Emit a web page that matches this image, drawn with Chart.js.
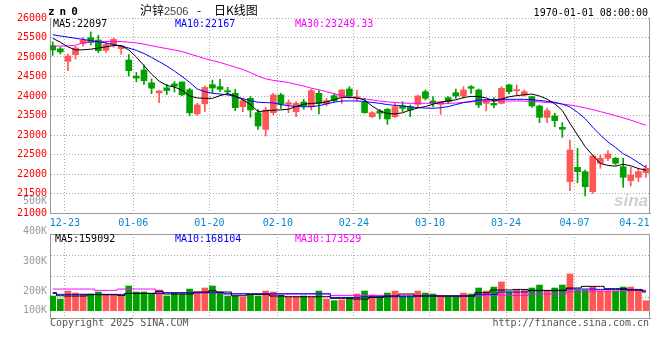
<!DOCTYPE html>
<html><head><meta charset="utf-8">
<script src="https://cdn.jsdelivr.net/npm/chart.js@4.4.1/dist/chart.umd.min.js"></script>
<style>
html,body{margin:0;padding:0;background:#fff}
#wrap{position:relative;width:660px;height:360px;background:#fff;overflow:hidden}
canvas{position:absolute;left:0}
</style></head><body>
<div id="wrap">
<canvas id="price" width="660" height="240" style="top:0px"></canvas>
<canvas id="vol" width="660" height="170" style="top:190px"></canvas>
</div>
<script>
// ---------------- data ----------------
const symbol = 'zn0';
const titleParts = ['沪锌', '2506', '-', '日K线图'];
const timeStamp = '1970-01-01 08:00:00';
const dates = ['12-20','12-23','12-24','12-25','12-26','12-27','12-30','12-31','01-02','01-03','01-06','01-07','01-08','01-09','01-10','01-13','01-14','01-15','01-16','01-17','01-20','01-21','01-22','01-23','01-24','01-27','02-05','02-06','02-07','02-10','02-11','02-12','02-13','02-14','02-17','02-18','02-19','02-20','02-21','02-24','02-25','02-26','02-27','02-28','03-03','03-04','03-05','03-06','03-07','03-10','03-11','03-12','03-13','03-14','03-17','03-18','03-19','03-20','03-21','03-24','03-25','03-26','03-27','03-28','03-31','04-01','04-02','04-03','04-07','04-08','04-09','04-10','04-11','04-14','04-15','04-16','04-17','04-18','04-21'];
const dateTicks = ['12-23','01-06','01-20','02-10','02-24','03-10','03-24','04-07','04-21'];
const openP = [25290,25210,24888,25060,25340,25495,25435,25170,25310,25215,24923,24510,24666,24337,24080,24210,24310,24360,24160,23540,23800,24290,24239,24137,24068,23726,23940,23573,23145,23573,24026,23786,23598,23846,23726,24068,23795,24009,23966,24180,23940,23838,23470,23616,23658,23470,23752,23727,23786,24111,23872,23786,23957,24085,24000,24239,24154,23812,23812,23812,24282,24137,24026,23983,23744,23453,23487,23197,21804,22171,22060,21547,22274,22402,22402,22188,21829,21915,22035];
const highP = [25390,25250,25077,25273,25500,25645,25555,25385,25490,25290,25065,24605,24790,24440,24140,24300,24370,24365,24200,23810,24260,24410,24427,24222,24171,23940,23983,23658,23709,24068,24068,23897,23855,23914,24171,24137,23940,24068,24171,24240,24154,23940,23598,23658,23684,23812,23855,23769,24026,24154,23983,23855,23983,24180,24239,24265,24180,23914,23957,24240,24308,24282,24154,23983,23769,23684,23556,23316,22872,22658,22103,22488,22488,22599,22428,22402,22171,22146,22231];
const lowP = [25040,25077,24649,24948,25280,25310,25110,25120,25250,25075,24512,24365,24295,24060,23830,24040,24100,24010,23490,23510,23600,24080,24111,24026,23624,23598,23453,23145,22974,23513,23684,23573,23470,23658,23641,23538,23744,23855,23812,23940,23872,23556,23445,23410,23274,23445,23598,23470,23727,23897,23727,23530,23812,23940,23940,24068,23701,23616,23701,23795,24051,24026,24000,23710,23316,23316,23214,22940,21573,21778,21436,21505,22146,22342,22231,21658,21693,21804,21915];
const closeP = [25180,25130,25025,25230,25430,25370,25162,25320,25452,25285,24649,24460,24393,24200,24130,24140,24250,24030,23570,23770,24220,24205,24171,24103,23701,23880,23641,23231,23641,24026,23786,23829,23812,23744,24137,23812,23880,23880,24154,24000,23983,23573,23573,23556,23410,23727,23684,23641,24000,23940,23812,23855,23855,24000,24154,24197,23769,23897,23769,24197,24111,24154,24111,23744,23453,23624,23368,23146,22616,22060,21675,22462,22402,22513,22274,21915,21975,22060,22146];
const ma5 = [25480,25380,25260,25180,25185,25200,25230,25260,25295,25295,25180,25000,24780,24560,24380,24270,24230,24150,24000,23950,23940,23940,24010,24060,24000,23900,23780,23600,23620,23635,23645,23660,23730,23790,23810,23820,23850,23900,23965,23965,23950,23900,23740,23620,23550,23540,23570,23640,23690,23730,23790,23840,23875,23900,23960,23990,23985,23950,23870,23920,23980,24010,24030,24050,24000,23920,23800,23630,23300,23000,22700,22480,22270,22220,22200,22250,22210,22140,22097];
const ma10 = [25570,25540,25510,25480,25450,25420,25390,25360,25320,25280,25230,25170,25090,24990,24880,24770,24640,24500,24350,24180,24110,24070,24050,24030,23990,23930,23880,23840,23830,23825,23780,23750,23730,23725,23725,23750,23800,23840,23870,23875,23872,23860,23835,23812,23780,23760,23745,23720,23705,23690,23685,23700,23727,23780,23830,23860,23895,23905,23912,23915,23915,23915,23915,23905,23885,23865,23840,23790,23720,23580,23420,23200,23000,22820,22680,22520,22420,22290,22167];
const ma30 = [25280,25280,25285,25300,25370,25385,25395,25400,25400,25395,25380,25360,25330,25290,25250,25215,25180,25140,25080,25020,24960,24910,24860,24800,24740,24680,24600,24510,24440,24400,24375,24345,24300,24255,24200,24160,24110,24060,24010,23980,23950,23925,23900,23870,23850,23835,23820,23812,23812,23815,23812,23812,23812,23820,23835,23850,23860,23870,23872,23872,23872,23872,23870,23860,23850,23835,23820,23795,23770,23735,23695,23650,23600,23550,23495,23440,23380,23315,23249.33];
const volume = [124700,99000,167000,150000,142000,142000,159000,133000,133000,125000,210000,159000,159000,142000,176000,125000,150000,142000,184000,159000,193000,210000,159000,125000,125000,116000,133000,125000,167000,159000,133000,116000,116000,125000,116000,167000,99000,85000,91000,113000,142000,167000,133000,125000,150000,167000,125000,125000,167000,150000,142000,125000,125000,125000,150000,142000,193000,167000,201000,244000,159000,176000,176000,193000,218000,167000,193000,218000,312000,176000,176000,201000,167000,167000,167000,201000,201000,167000,85000];
const volMA5 = [153000,127000,125000,125000,125000,136000,136000,136000,136000,130000,147000,147000,147000,147000,164000,142000,142000,142000,142000,159000,159000,170000,159000,159000,127000,127000,139000,139000,139000,125000,125000,119000,119000,119000,119000,119000,119000,105000,105000,105000,99000,99000,113000,113000,125000,125000,142000,142000,125000,125000,125000,125000,125000,125000,125000,125000,153000,153000,176000,176000,176000,181000,181000,173000,173000,173000,173000,173000,193000,193000,207000,207000,207000,187000,187000,187000,176000,176000,159092];
const volMA10 = [147000,139000,139000,139000,139000,139000,139000,139000,139000,139000,147000,147000,147000,147000,147000,153000,153000,153000,153000,153000,153000,153000,153000,144000,144000,144000,144000,144000,144000,144000,144000,144000,144000,144000,144000,144000,144000,113000,113000,113000,113000,119000,119000,119000,119000,119000,119000,119000,125000,125000,125000,125000,125000,125000,125000,125000,139000,139000,139000,159000,159000,159000,159000,170000,170000,170000,170000,170000,184000,184000,184000,184000,181000,181000,181000,181000,181000,181000,168104];
const volMA30 = [184000,184000,184000,184000,184000,184000,173000,173000,173000,184000,184000,184000,184000,184000,170000,153000,153000,153000,153000,153000,153000,153000,153000,142000,142000,142000,142000,142000,142000,142000,142000,142000,142000,142000,142000,142000,142000,130000,130000,130000,130000,130000,130000,130000,130000,130000,130000,130000,130000,130000,130000,125000,125000,125000,125000,125000,125000,133000,133000,133000,130000,130000,130000,142000,142000,142000,142000,142000,161000,161000,161000,167000,167000,167000,167000,170000,170000,172000,173529];
const volumeTickLabels = ['500K','400K','300K','200K','100K'];

// ---------------- styling ----------------
const MONO = '"DejaVu Sans Mono", "Liberation Mono", monospace';
const UP = '#ff5656', DOWN = '#00a000';
const GRID = '#aaaaaa', AXIS = '#999999';
const GRID_DASH = [1, 2];
const N = dates.length;
const X_MIN = -0.355, X_MAX = N - 1 + 0.526;
const candleColor = closeP.map((c, i) => c >= openP[i] ? UP : DOWN);
const rawTickPos = dateTicks.map(d => dates.indexOf(d) + 0.6);
const tickPos = rawTickPos.map(v => Math.min(v, X_MAX - 2.05));
const gridOn = rawTickPos.map((v, i) => v === tickPos[i]);
const xy = arr => arr.map((v, i) => ({x: i, y: v}));
const last = arr => arr[arr.length - 1];

function xAxis(showLabels, height) {
  return {
    type: 'linear', min: X_MIN, max: X_MAX, offset: false,
    afterBuildTicks: s => { s.ticks = tickPos.map(v => ({value: v})); },
    afterFit: s => { s.height = height; },
    ticks: {display: showLabels, autoSkip: false, maxRotation: 0, color: '#0a86d2',
      font: {family: MONO, size: 10}, padding: 4, callback: (v, i) => dateTicks[i]},
    grid: {offset: false, drawTicks: false, color: c => gridOn[c.index] ? GRID : 'rgba(0,0,0,0)'},
    border: {display: true, color: AXIS, width: 1, dash: GRID_DASH}
  };
}

// ---------------- price chart ----------------
const priceText = {
  id: 'priceText',
  afterDraw(chart) {
    const ctx = chart.ctx, a = chart.chartArea;
    ctx.save();
    ctx.strokeStyle = AXIS; ctx.lineWidth = 1;
    ctx.beginPath(); ctx.moveTo(a.right - 0.5, a.top); ctx.lineTo(a.right - 0.5, a.bottom); ctx.stroke();
    ctx.textBaseline = 'alphabetic'; ctx.textAlign = 'left';
    ctx.fillStyle = '#000';
    ctx.font = 'bold 11px ' + MONO;
    ctx.letterSpacing = '5px';
    ctx.fillText(symbol, 48, 15);
    ctx.letterSpacing = '0px';
    ctx.font = '12px "Noto Sans CJK SC"';
    ctx.fillText(titleParts[0], 140, 14.5);
    ctx.fillStyle = '#444';
    ctx.font = '11px "Liberation Sans", sans-serif';
    ctx.fillText(titleParts[1], 164, 14.5);
    ctx.fillStyle = '#000';
    ctx.font = '12px "Noto Sans CJK SC"';
    ctx.fillText(titleParts[2], 197, 14.5);
    ctx.fillText(titleParts[3], 214, 14.5);
    ctx.font = '10px ' + MONO;
    ctx.textAlign = 'right';
    ctx.fillText(timeStamp, 648, 15.5);
    ctx.textAlign = 'left';
    ctx.fillStyle = '#000'; ctx.fillText('MA5:' + last(ma5), 53, 27);
    ctx.fillStyle = '#0000ff'; ctx.fillText('MA10:' + last(ma10), 175, 27);
    ctx.fillStyle = '#ff00ff'; ctx.fillText('MA30:' + last(ma30), 295, 27);
    ctx.textAlign = 'right';
    ctx.font = 'italic bold 17px "Liberation Sans", sans-serif';
    ctx.fillStyle = 'rgba(170,170,170,0.55)';
    ctx.fillText('sina', 648, 206);
    ctx.restore();
  }
};

new Chart(document.getElementById('price'), {
  type: 'bar',
  data: {
    datasets: [
      {type: 'line', label: 'MA5', data: xy(ma5), borderColor: '#000000', borderWidth: 1, pointRadius: 0, tension: 0, order: 0},
      {type: 'line', label: 'MA10', data: xy(ma10), borderColor: '#0000ff', borderWidth: 1, pointRadius: 0, tension: 0, order: 0},
      {type: 'line', label: 'MA30', data: xy(ma30), borderColor: '#ff00ff', borderWidth: 1, pointRadius: 0, tension: 0, order: 0},
      {label: 'body', data: openP.map((o, i) => ({x: i, y: [o, closeP[i]]})), backgroundColor: candleColor,
        barThickness: 6, minBarLength: 1, grouped: false, order: 1},
      {label: 'wick', data: lowP.map((l, i) => ({x: i, y: [l, highP[i]]})), backgroundColor: candleColor,
        barThickness: 1, grouped: false, order: 2}
    ]
  },
  options: {
    responsive: false, animation: false, devicePixelRatio: 1, events: [],
    layout: {padding: {top: 18, right: 10, left: 0, bottom: 0}},
    plugins: {legend: {display: false}, tooltip: {enabled: false}},
    scales: {
      x: xAxis(true, 27),
      y: {min: 21000, max: 26000, afterFit: s => { s.width = 50; },
        ticks: {stepSize: 500, color: '#ff0000', font: {family: MONO, size: 10}, padding: 3, callback: v => String(v)},
        grid: {drawTicks: false, color: c => (c.tick && c.tick.value === 21000) ? 'rgba(0,0,0,0)' : GRID},
        border: {display: true, color: AXIS, width: 1, dash: GRID_DASH}}
    }
  },
  plugins: [priceText]
});

// ---------------- volume chart ----------------
const V_MIN = -62000, V_MAX = 652000;
const volText = {
  id: 'volText',
  afterDraw(chart) {
    const ctx = chart.ctx, a = chart.chartArea;
    ctx.save();
    ctx.strokeStyle = AXIS; ctx.lineWidth = 1;
    ctx.beginPath();
    ctx.moveTo(a.left, a.top + 0.5); ctx.lineTo(a.right, a.top + 0.5);
    ctx.moveTo(a.right - 0.5, a.top); ctx.lineTo(a.right - 0.5, a.bottom);
    ctx.stroke();
    ctx.font = '10px ' + MONO;
    ctx.textBaseline = 'alphabetic';
    ctx.textAlign = 'right'; ctx.fillStyle = '#9a9a9a';
    const ys = [14, 44, 74, 104, 123.3];
    volumeTickLabels.forEach((t, i) => ctx.fillText(t, 47, ys[i]));
    ctx.textAlign = 'left';
    ctx.fillStyle = '#000'; ctx.fillText('MA5:' + last(volMA5), 55, 52.3);
    ctx.fillStyle = '#0000ff'; ctx.fillText('MA10:' + last(volMA10), 175, 52.3);
    ctx.fillStyle = '#ff00ff'; ctx.fillText('MA30:' + last(volMA30), 295, 52.3);
    ctx.fillStyle = '#555';
    ctx.fillText('Copyright 2025 SINA.COM', 50, 135.5);
    ctx.textAlign = 'right';
    ctx.fillText('http://finance.sina.com.cn', 649, 135.5);
    ctx.restore();
  }
};

new Chart(document.getElementById('vol'), {
  type: 'bar',
  data: {
    datasets: [
      {type: 'line', label: 'VMA5', data: xy(volMA5), borderColor: '#000000', borderWidth: 1, pointRadius: 0, stepped: 'middle', order: 0},
      {type: 'line', label: 'VMA10', data: xy(volMA10), borderColor: '#0000ff', borderWidth: 1, pointRadius: 0, stepped: 'middle', order: 0},
      {type: 'line', label: 'VMA30', data: xy(volMA30), borderColor: '#ff00ff', borderWidth: 1, pointRadius: 0, stepped: 'middle', order: 0},
      {label: 'volume', data: xy(volume), backgroundColor: candleColor, barThickness: 6, grouped: false, order: 1}
    ]
  },
  options: {
    responsive: false, animation: false, devicePixelRatio: 1, events: [],
    layout: {padding: {top: 44, right: 10, left: 0, bottom: 0}},
    plugins: {legend: {display: false}, tooltip: {enabled: false}},
    scales: {
      x: xAxis(false, 42),
      y: {min: V_MIN, max: V_MAX, afterFit: s => { s.width = 50; },
        afterBuildTicks: s => { s.ticks = [1, 2, 3].map(k => ({value: V_MIN + (V_MAX - V_MIN) * k / 4})); },
        ticks: {display: false},
        grid: {drawTicks: false, color: GRID},
        border: {display: true, color: AXIS, width: 1, dash: GRID_DASH}}
    }
  },
  plugins: [volText]
});
</script>
</body></html>
